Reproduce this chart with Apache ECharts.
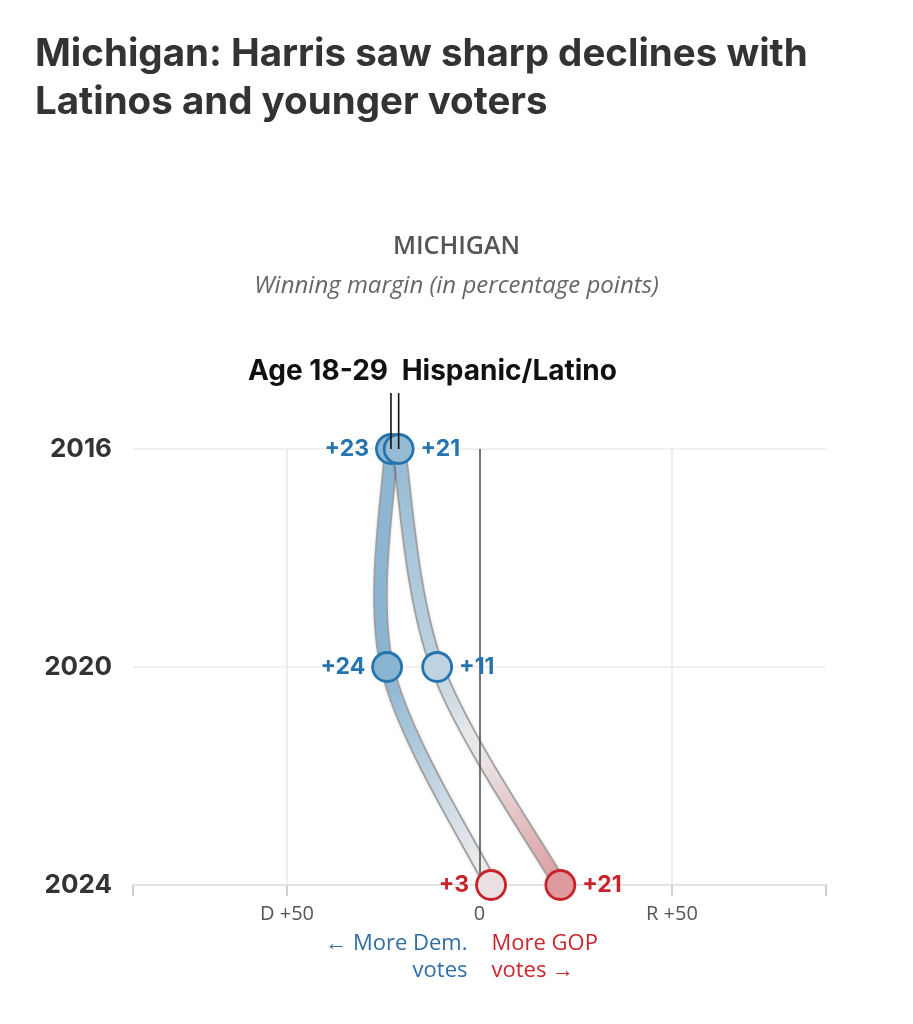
<!DOCTYPE html>
<html>
<head>
<meta charset="utf-8">
<script src="https://cdn.jsdelivr.net/npm/echarts@6/dist/echarts.min.js"></script>
<style>
html,body{margin:0;padding:0;background:#fff;}
#main{width:913px;height:1024px;}
</style>
</head>
<body>
<div id="main"></div>
<script>
// ---- data ----
const years = [2016, 2020, 2024];
const groupNames = ['Age 18-29', 'Hispanic/Latino'];
const ageMargins = [-23, -24, 3];        // negative = Dem margin, positive = GOP margin
const latinoMargins = [-21, -11, 21];
const labelSides = ['left', 'right'];
const xLabelValues = [-50, 0, 50];
const xTickLabels = ['D +50', '0', 'R +50'];
const xTickValues = [-90, -50, 50, 90];

const FONT = 'Inter, "Noto Sans", sans-serif';
const FONT2 = '"Open Sans", "Noto Sans", sans-serif';
const BLUE = '#2574ad', RED = '#c8232b';

function marginColor(v) {
  const t = Math.min(Math.abs(v) / 30, 1);
  const base = [236, 236, 237];
  const end = v < 0 ? [112, 166, 203] : [214, 120, 124];
  const c = base.map((b, i) => Math.round(b + (end[i] - b) * t));
  return 'rgb(' + c.join(',') + ')';
}

const groups = [ageMargins, latinoMargins];
const series = [];

// reference lines (grid at D+50 / R+50, zero line)
series.push({
  type: 'line', data: [[0, years[0]]], symbol: 'none', silent: true, z: 1,
  lineStyle: { opacity: 0 },
  markLine: {
    silent: true, symbol: 'none', label: { show: false },
    data: [
      { xAxis: -50, lineStyle: { color: '#e9e9e9', width: 1.5, type: 'solid' } },
      { xAxis: 50, lineStyle: { color: '#e9e9e9', width: 1.5, type: 'solid' } },
      { xAxis: 0, lineStyle: { color: '#555', width: 1.6, type: 'solid' } }
    ]
  }
});

// smooth (cardinal) paths, one bezier segment per interval, gradient following the values
groups.forEach((m, gi) => {
  series.push({
    name: groupNames[gi], type: 'custom', z: 3, silent: true,
    data: m.map((v, i) => [v, years[i]]),
    encode: { x: 0, y: 1 },
    renderItem: (params, api) => {
      const i = params.dataIndex;
      if (i >= m.length - 1) return { type: 'group', children: [] };
      const P = m.map((v, k) => api.coord([v, years[k]]));
      const n = P.length;
      const prev = P[Math.max(i - 1, 0)], a = P[i], b = P[i + 1], next = P[Math.min(i + 2, n - 1)];
      const shape = {
        x1: a[0], y1: a[1], x2: b[0], y2: b[1],
        cpx1: a[0] + (b[0] - prev[0]) / 6, cpy1: a[1] + (b[1] - prev[1]) / 6,
        cpx2: b[0] - (next[0] - a[0]) / 6, cpy2: b[1] - (next[1] - a[1]) / 6
      };
      const stops = [];
      const steps = 10;
      for (let s = 0; s <= steps; s++) {
        const f = s / steps;
        stops.push({ offset: f, color: marginColor(m[i] + (m[i + 1] - m[i]) * f) });
      }
      const grad = new echarts.graphic.LinearGradient(0, 0, 0, 0, stops, true);
      grad.x = a[0]; grad.y = a[1]; grad.x2 = b[0]; grad.y2 = b[1];
      return {
        type: 'group',
        children: [
          { type: 'bezierCurve', shape: shape,
            style: { fill: null, stroke: 'rgba(105,105,105,0.55)', lineWidth: 14.5, shadowColor: 'rgba(0,0,0,0.3)', shadowBlur: 3 } },
          { type: 'bezierCurve', shape: shape,
            style: { fill: null, stroke: grad, lineWidth: 11 } }
        ]
      };
    }
  });
});

groups.forEach((m, gi) => {
  series.push({
    name: groupNames[gi] + ' points', type: 'scatter', z: 5 + gi,
    symbolSize: 29,
    data: m.map((v, i) => ({
      value: [v, years[i]],
      itemStyle: { color: marginColor(v), borderColor: v < 0 ? BLUE : RED, borderWidth: 2.8, opacity: 1 },
      label: { color: v < 0 ? BLUE : RED }
    })),
    label: {
      show: true, position: labelSides[gi], distance: 6,
      fontFamily: FONT, fontWeight: 'bold', fontSize: 23,
      formatter: p => '+' + Math.abs(p.value[0])
    }
  });
});

const chart = echarts.init(document.getElementById('main'));
chart.setOption({
  animation: false,
  backgroundColor: '#fff',
  title: [
    {
      text: 'Michigan: Harris saw sharp declines with\nLatinos and younger voters',
      left: 30, top: 25,
      textStyle: { fontFamily: FONT, fontWeight: 'bold', fontSize: 38.5, lineHeight: 48, color: '#333' }
    },
    {
      text: 'MICHIGAN', left: 'center', top: 229,
      textStyle: { fontFamily: FONT2, fontWeight: 600, fontSize: 25, color: '#555' }
    },
    {
      text: 'Winning margin (in percentage points)', left: 'center', top: 269,
      textStyle: { fontFamily: FONT2, fontStyle: 'italic', fontWeight: 'normal', fontSize: 24, color: '#666' }
    }
  ],
  grid: { left: 133, right: 87, top: 449, bottom: 139, containLabel: false },
  xAxis: {
    type: 'value', min: -90, max: 90,
    axisLine: { show: true, lineStyle: { color: '#e3e3e3', width: 2 } },
    axisTick: { show: true, customValues: xTickValues, length: 11, lineStyle: { color: '#d0d0d0', width: 2 } },
    splitLine: { show: false },
    axisLabel: {
      customValues: xLabelValues, margin: 19,
      fontFamily: FONT2, fontSize: 20, color: '#555',
      formatter: v => xTickLabels[xLabelValues.indexOf(v)]
    }
  },
  yAxis: {
    type: 'value', inverse: true, min: 2016, max: 2024, interval: 4,
    axisLine: { show: false }, axisTick: { show: false },
    splitLine: { show: true, lineStyle: { color: '#ececec', width: 1.5 } },
    axisLabel: { margin: 21, fontFamily: FONT, fontWeight: 'bold', fontSize: 26, color: '#333', formatter: v => String(v) }
  },
  series: series
});

function px(x, y) { return chart.convertToPixel({ gridIndex: 0 }, [x, y]); }
const graphics = [];
groups.forEach((m, gi) => {
  const p = px(m[0], years[0]);
  graphics.push({
    type: 'line', z: 100, silent: true,
    shape: { x1: p[0], y1: p[1] - 56, x2: p[0], y2: p[1] },
    style: { stroke: '#111', lineWidth: 1.6 }
  });
  graphics.push({
    type: 'text', z: 100, silent: true,
    x: gi === 0 ? p[0] - 3 : p[0] + 3, y: p[1] - 77,
    style: {
      text: groupNames[gi], fill: '#111',
      font: 'bold 28px ' + FONT,
      align: gi === 0 ? 'right' : 'left', verticalAlign: 'middle'
    }
  });
});
const z0 = px(0, years[years.length - 1]);
graphics.push({
  type: 'text', z: 100, silent: true, x: z0[0] - 12, y: z0[1] + 45,
  style: { text: '\u2190 More Dem.\nvotes', fill: '#2f6ea4', font: '22px ' + FONT2, lineHeight: 27, align: 'right', verticalAlign: 'top' }
});
graphics.push({
  type: 'text', z: 100, silent: true, x: z0[0] + 12, y: z0[1] + 45,
  style: { text: 'More GOP\nvotes \u2192', fill: '#c9252c', font: '22px ' + FONT2, lineHeight: 27, align: 'left', verticalAlign: 'top' }
});
chart.setOption({ graphic: graphics });
</script>
</body>
</html>
